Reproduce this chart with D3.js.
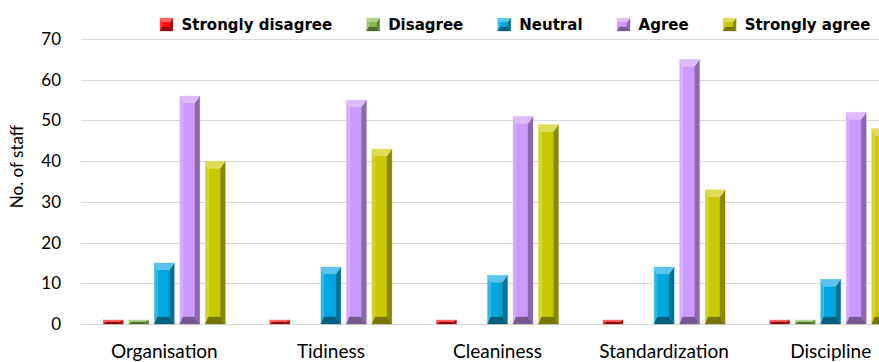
<!DOCTYPE html>
<html>
<head>
<meta charset="utf-8">
<script src="https://cdn.jsdelivr.net/npm/d3@7"></script>
<style>
  html, body { margin: 0; padding: 0; background: #ffffff; }
  svg { display: block; }
  text { font-family: Lato, "Open Sans", sans-serif; fill: #000; }
  text.legend-label { font-family: "DejaVu Sans", "Liberation Sans", sans-serif; font-weight: 700; }
</style>
</head>
<body>
<svg id="chart" width="879" height="362"></svg>
<script>
// Survey responses per workplace-organisation principle
const categories = ["Organisation", "Tidiness", "Cleaniness", "Standardization", "Discipline"];
const seriesNames = ["Strongly disagree", "Disagree", "Neutral", "Agree", "Strongly agree"];
const stronglyDisagree = [1, 1, 1, 1, 1];
const disagree = [1, 0, 0, 0, 1];
const neutral = [15, 14, 12, 14, 11];
const agree = [56, 55, 51, 65, 52];
const stronglyAgree = [40, 43, 49, 33, 48];
const yTicks = [0, 10, 20, 30, 40, 50, 60, 70];
const seriesColors = ["#ff0d0d", "#86bd4e", "#00a6de", "#cc99ff", "#c9c900"];

const seriesValues = [stronglyDisagree, disagree, neutral, agree, stronglyAgree];

const svg = d3.select("#chart");
const margin = { left: 81, top: 39, bottom: 324 };
const plotRight = 914; // plot runs past the right edge of the canvas

const x = d3.scaleBand().domain(categories).range([margin.left, plotRight]).padding(0);
const xInner = d3.scaleBand().domain(seriesNames).range([-61, 61]).paddingInner(0.216).paddingOuter(0);
const y = d3.scaleLinear().domain([0, 70]).range([margin.bottom, margin.top]);

// gridlines
svg.append("g")
  .selectAll("line")
  .data(yTicks)
  .join("line")
  .attr("x1", margin.left)
  .attr("x2", plotRight)
  .attr("y1", d => Math.round(y(d)) + 0.5)
  .attr("y2", d => Math.round(y(d)) + 0.5)
  .attr("stroke", "#d9d9d9")
  .attr("stroke-width", 1.2);

// y axis labels
const yAxis = d3.axisLeft(y).tickValues(yTicks).tickSize(0).tickPadding(0);
const gy = svg.append("g").attr("transform", `translate(61,0)`).call(yAxis);
gy.select(".domain").remove();
gy.selectAll("text")
  .attr("font-size", 17)
  .attr("font-family", null)
  .attr("fill", "#000");

// y title
svg.append("text")
  .attr("transform", `translate(23,${(margin.top + margin.bottom) / 2 - 15}) rotate(-90)`)
  .attr("text-anchor", "middle")
  .attr("font-size", 17)
  .text("No. of staff");

// x axis labels
const xAxis = d3.axisBottom(x).tickSize(0).tickPadding(0);
const gx = svg.append("g").attr("transform", `translate(0,${margin.bottom + 20})`).call(xAxis);
gx.select(".domain").remove();
gx.selectAll("text")
  .attr("font-size", 19)
  .attr("font-family", null)
  .attr("fill", "#000")
  .attr("dy", "0.75em");

// bevelled bar: light top facet, light left edge, dark right edge, dark bottom facet
function shade(c, t, k) {
  return d3.interpolateRgb(c, t)(k);
}
function bevelBar(g, bx, by, w, h, color, small) {
  if (h <= 0) return;
  const d = Math.min(small ? 4 : 7, h / 2);
  const l = small ? 2 : 3;
  const r = small ? 3 : 5;
  const x0 = bx, x1 = bx + w, y0 = by, y1 = by + h;
  const faces = [
    { pts: [[x0 + l, y0 + d], [x1 - r, y0 + d], [x1 - r, y1 - d], [x0 + l, y1 - d]], fill: color },
    { pts: [[x0, y0], [x0 + l, y0 + d], [x0 + l, y1 - d], [x0, y1]], fill: shade(color, "#ffffff", 0.18) },
    { pts: [[x1, y0], [x1 - r, y0 + d], [x1 - r, y1 - d], [x1, y1]], fill: shade(color, "#000000", 0.32) },
    { pts: [[x0, y0], [x1, y0], [x1 - r, y0 + d], [x0 + l, y0 + d]], fill: shade(color, "#ffffff", 0.35) },
    { pts: [[x0, y1], [x1, y1], [x1 - r, y1 - d], [x0 + l, y1 - d]], fill: shade(color, "#000000", 0.42) }
  ];
  g.selectAll(null)
    .data(faces)
    .join("polygon")
    .attr("points", f => f.pts.map(p => p.join(",")).join(" "))
    .attr("fill", f => f.fill)
    .attr("stroke", f => f.fill)
    .attr("stroke-width", 0.3);
}

// bars
const barsG = svg.append("g");
categories.forEach((cat, ci) => {
  seriesNames.forEach((s, si) => {
    const v = seriesValues[si][ci];
    const bx = x(cat) + x.bandwidth() / 2 + xInner(s);
    const top = y(v);
    const g = barsG.append("g");
    bevelBar(g, bx, top, xInner.bandwidth(), y(0) - top, seriesColors[si], false);
  });
});

// legend laid out from measured text widths
const legend = svg.append("g");
let lx = 160;
const markerSize = 13, markerGap = 8.5, itemGap = 34.5, legendY = 24.5;
seriesNames.forEach((s, si) => {
  const item = legend.append("g");
  bevelBar(item, lx, legendY - markerSize / 2, markerSize, markerSize, seriesColors[si], true);
  const t = item.append("text")
    .attr("class", "legend-label")
    .attr("x", lx + markerSize + markerGap)
    .attr("y", legendY)
    .attr("dy", "0.36em")
    .attr("font-size", 15)
    .text(s);
  lx += markerSize + markerGap + t.node().getComputedTextLength() + itemGap;
});
</script>
</body>
</html>
